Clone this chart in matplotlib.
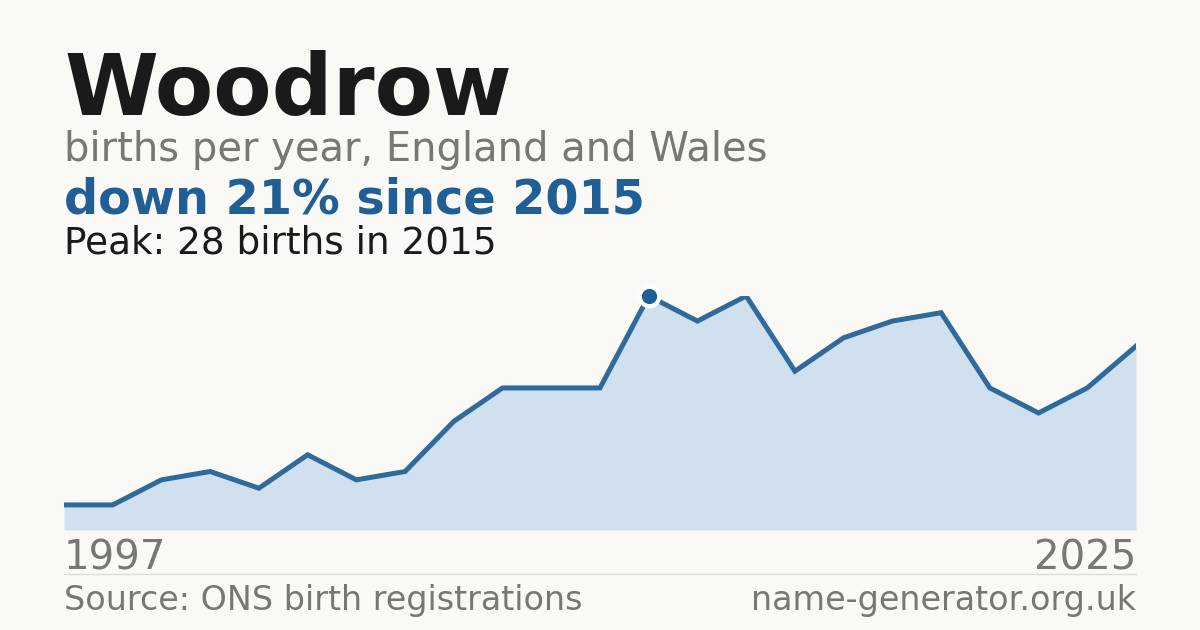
import numpy as np
import matplotlib
matplotlib.use("Agg")
import matplotlib.pyplot as plt

# years with registrations on record (plotted by position, not by year)
years = [1997, 1998, 2000, 2001, 2003, 2004, 2006, 2007, 2009, 2010, 2012, 2014,
         2015, 2016, 2017, 2018, 2019, 2020, 2021, 2022, 2023, 2024, 2025]
births = [3, 3, 6, 7, 5, 9, 6, 7, 13, 17, 17, 17,
          28, 25, 28, 19, 23, 25, 26, 17, 14, 17, 22]

name = "Woodrow"
subtitle = "births per year, England and Wales"
headline = "down 21% since 2015"
peak_note = "Peak: 28 births in 2015"
source = "Source: ONS birth registrations"
site = "name-generator.org.uk"

bg = "#faf9f5"
blue = "#1f5f96"
line_col = "#2f6a9c"
fill_col = "#d0e0ef"
grey = "#7a7670"

plt.rcParams['font.family'] = ['DejaVu Sans']

W, H = 1200, 630
fig = plt.figure(figsize=(12, 6.3), dpi=100, facecolor=bg)

def px(x, y):
    return x / W, 1 - y / H

# plot area
left, right, top, bottom = 64, 1136, 296, 530
ax = fig.add_axes([left / W, 1 - bottom / H, (right - left) / W, (bottom - top) / H])
ax.set_facecolor(bg)
x = np.arange(len(births))
ax.fill_between(x, births, 0, color=fill_col, lw=0)
ax.plot(x, births, color=line_col, lw=3.6, solid_joinstyle="miter")
pk = int(np.argmax(births))
ax.plot(x[pk], births[pk], "o", ms=14, mfc=blue, mec="white", mew=3, clip_on=False, zorder=5)
ax.set_xlim(0, len(births) - 1)
ax.set_ylim(0, max(births))
ax.axis("off")

# titles
fig.text(*px(64, 115), name, fontsize=61.3, fontweight="bold", color="#1a1a1a", va="baseline")
fig.text(*px(64, 161), subtitle, fontsize=28.8, color=grey, va="baseline")
fig.text(*px(64, 214), headline, fontsize=34.4, fontweight="bold", color=blue, va="baseline")
fig.text(*px(64, 254), peak_note, fontsize=26.9, color="#1a1a1a", va="baseline")

# year labels
fig.text(*px(64, 569), str(years[0]), fontsize=29, color=grey, va="baseline")
fig.text(*px(1136, 569), str(years[-1]), fontsize=29, color=grey, va="baseline", ha="right")

# divider
fig.add_artist(plt.Line2D([64 / W, 1136 / W], [1 - 574 / H] * 2, color="#e0ddd6", lw=1))

# footer
fig.text(*px(64, 610), source, fontsize=24, color=grey, va="baseline")
fig.text(*px(1136, 610), site, fontsize=24, color=grey, va="baseline", ha="right")

fig.savefig("out.png", dpi=100, facecolor=bg)
